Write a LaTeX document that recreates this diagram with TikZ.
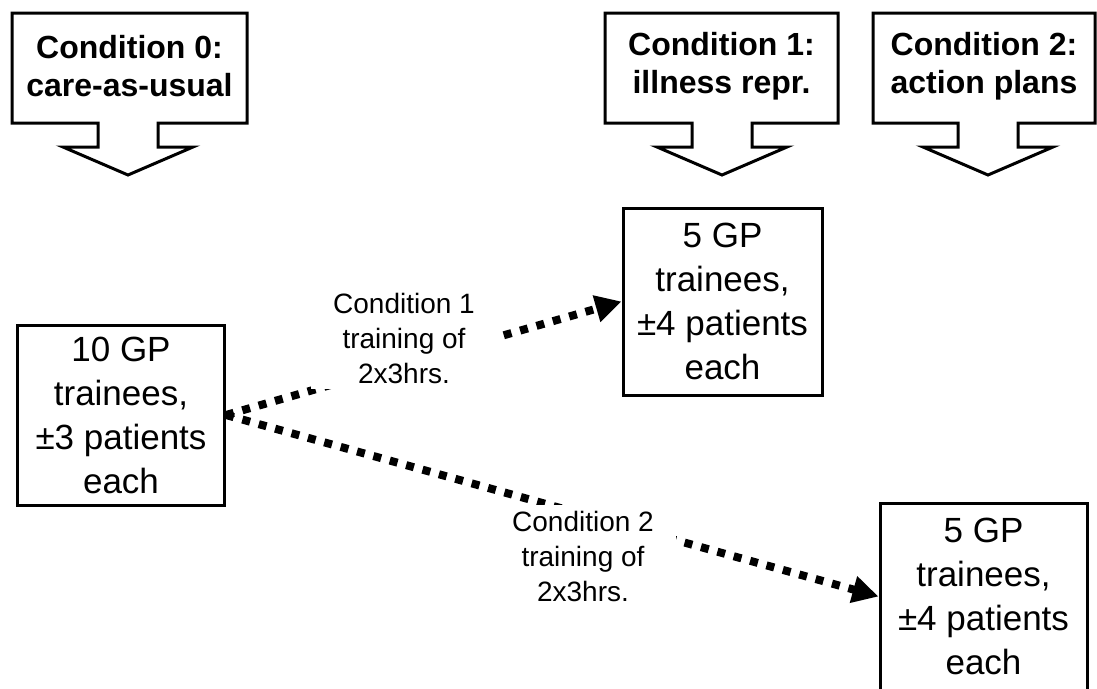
\documentclass[tikz,border=0pt]{standalone}
\usepackage{fontspec}
\setmainfont{Liberation Sans}
\usetikzlibrary{arrows.meta,backgrounds}

\tikzset{
  groupbox/.style={draw=black, line width=3pt, fill=white, align=center, inner sep=0pt,
    font=\fontsize{35}{44}\selectfont},
  condtext/.style={align=center, font=\bfseries\fontsize{32}{38}\selectfont},
  calloutline/.style={draw=black, line width=3pt, line join=miter, fill=white},
  training/.style={line width=8pt, dash pattern=on 8pt off 9pt,
    -{Triangle[length=26pt,width=26pt]}},
  traininglabel/.style={fill=white, align=center, inner xsep=22pt, inner ysep=6pt,
    font=\fontsize{28}{35}\selectfont}
}

\begin{document}
\begin{tikzpicture}[x=1pt, y=-1pt, line cap=butt]
	\useasboundingbox (0,0) rectangle (1097,688);

	%Condition callouts
	\foreach \cx/\bl/\br/\name/\txt in {128/12/247/cond0/{Condition 0:\\care-as-usual},
		722/605/838/cond1/{Condition 1:\\illness repr.},
		988/873/1095/cond2/{Condition 2:\\action plans}}{
		\path[calloutline] (\bl,13) -- (\br,13) -- (\br,123) -- (\cx+30,123) -- (\cx+30,147)
			-- (\cx+65,147) -- (\cx,175) -- (\cx-65,147) -- (\cx-30,147) -- (\cx-30,123)
			-- (\bl,123) -- cycle;
		\node[condtext] (\name) at ({(\bl+\br)/2},66) {\txt};
	}

	%Trainee groups
	\node[groupbox, minimum width=207pt, minimum height=180pt] (gp10) at (121,415)
		{10 GP\\trainees,\\±3 patients\\each};
	\node[groupbox, minimum width=199pt, minimum height=187pt] (gp5a) at (722.5,301.5)
		{5 GP\\trainees,\\±4 patients\\each};
	\node[groupbox, minimum width=207pt, minimum height=187pt] (gp5b) at (983.5,596.5)
		{5 GP\\trainees,\\±4 patients\\each};

	%Training labels
	\node[traininglabel] (train1) at (404,338) {Condition 1\\training of\\2x3hrs.};
	\node[traininglabel] (train2) at (583,556) {Condition 2\\training of\\2x3hrs.};

	%Connectors
	\begin{scope}[on background layer]
		\draw[training] (gp10.east) -- (gp5a.west);
		\draw[training] (gp10.east) -- (gp5b.west);
	\end{scope}
\end{tikzpicture}
\end{document}
